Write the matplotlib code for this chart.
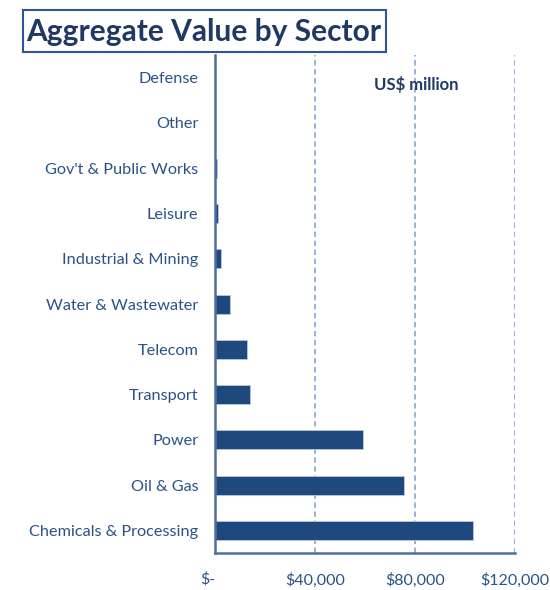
import matplotlib.pyplot as plt
from matplotlib.patches import Rectangle

sectors = ['Chemicals & Processing', 'Oil & Gas', 'Power', 'Transport', 'Telecom',
           'Water & Wastewater', 'Industrial & Mining', 'Leisure',
           "Gov't & Public Works", 'Other', 'Defense']
values = [103200, 75600, 59200, 14000, 12800, 6000, 2400, 1200, 800, 0, 0]
xticks = [0, 40000, 80000, 120000]
xticklabels = ['$-', '$40,000', '$80,000', '$120,000']

bar_color = '#1F497D'
text_color = '#2A5288'
grid_color = '#8EADD6'
spine_color = '#4F6F9F'

plt.rcParams['font.family'] = ['Lato', 'DejaVu Sans']

fig = plt.figure(figsize=(5.5, 5.9), dpi=100)
ax = fig.add_axes([0.391, 0.0627, 0.545, 0.844])

ypos = list(range(len(sectors)))
ax.barh(ypos, values, height=0.42, color=bar_color, edgecolor='#B8C9E0',
        linewidth=0.6, zorder=3)

ax.set_xlim(0, 120000)
ax.set_ylim(-0.5, len(sectors) - 0.5)
ax.set_yticks(ypos)
ax.set_yticklabels(sectors, fontsize=11.7, color=text_color)
ax.set_xticks(xticks)
ax.set_xticklabels(xticklabels, fontsize=11.5, color=text_color)
ax.tick_params(axis='both', length=0)
ax.tick_params(axis='y', pad=12)
ax.tick_params(axis='x', pad=14)
# accounting-style zero label sits a little left of the axis
ax.get_xticklabels()[0].set_horizontalalignment('right')
ax.get_xticklabels()[0].set_x(0)

ax.xaxis.grid(True, linestyle=(0, (3, 2)), color=grid_color, linewidth=1.3, zorder=0)
ax.set_axisbelow(True)
for side in ['top', 'right']:
    ax.spines[side].set_visible(False)
for side in ['left', 'bottom']:
    ax.spines[side].set_color(spine_color)
    ax.spines[side].set_linewidth(1.8)
    ax.spines[side].set_zorder(4)

ax.text(0.67, 0.94, 'US$ million', transform=ax.transAxes, ha='center', va='center',
        fontsize=12, fontweight='bold', color='#1F3864')

# boxed chart title
fig.patches.append(Rectangle((23 / 550, 1 - 52 / 590), 363 / 550, 42 / 590,
                             transform=fig.transFigure, facecolor='white',
                             edgecolor='#2F5597', linewidth=1.5, zorder=10))
fig.text(204 / 550, 1 - 32 / 590, 'Aggregate Value by Sector', ha='center', va='center',
         fontsize=21.5, fontweight='bold', color='#1F3864', zorder=11)

fig.savefig('out.png', dpi=100)
